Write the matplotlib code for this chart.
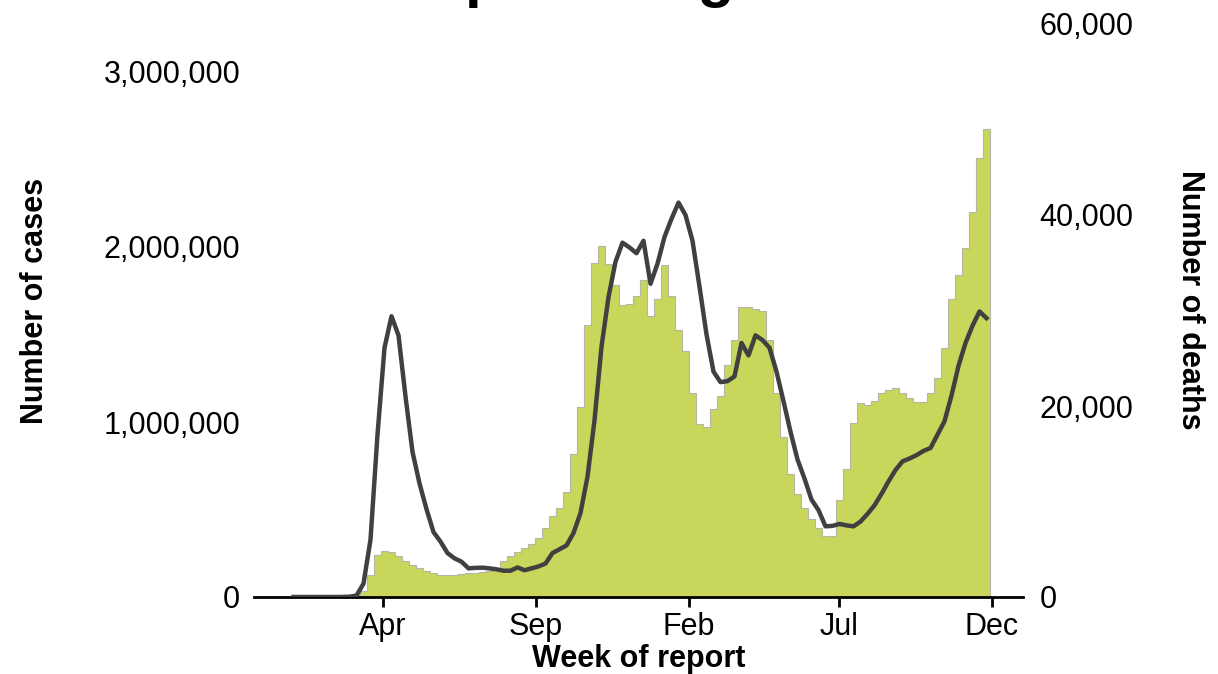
import matplotlib
matplotlib.use('Agg')
import matplotlib.pyplot as plt
import matplotlib.dates as mdates
import matplotlib.ticker as mticker
import numpy as np
import pandas as pd

plt.rcParams['font.family'] = ['Liberation Sans', 'DejaVu Sans']

# weekly report, week starting Monday
weeks = pd.date_range('2019-12-30', periods=100, freq='7D')

# cases per week, thousands
cases = [0, 0, 0, 0, 0, 0, 0.2, 1, 3, 12,
         36, 125, 239, 264, 255, 236, 207, 182, 165, 150,
         138, 128, 125, 128, 132, 135, 138, 142, 148, 160,
         207, 236, 255, 279, 302, 340, 397, 464, 511, 600,
         815, 1087, 1556, 1908, 2003, 1904, 1785, 1670, 1676, 1718,
         1813, 1604, 1703, 1895, 1718, 1524, 1408, 1163, 990, 971,
         1072, 1148, 1325, 1471, 1657, 1655, 1648, 1632, 1467, 1167,
         916, 701, 587, 506, 445, 397, 350, 346, 553, 734,
         996, 1110, 1100, 1120, 1163, 1183, 1195, 1163, 1135, 1117,
         1113, 1167, 1254, 1424, 1703, 1842, 1997, 2199, 2507, 2672]

# deaths per week, thousands
deaths = [0, 0, 0, 0, 0, 0, 0, 0.01, 0.03, 0.15,
          1.4, 6.0, 17.0, 26.1, 29.4, 27.4, 21.0, 15.2, 11.9, 9.2,
          6.8, 5.8, 4.6, 4.05, 3.7, 3.0, 3.05, 3.07, 3.0, 2.9,
          2.75, 2.75, 3.1, 2.8, 3.0, 3.2, 3.5, 4.6, 5.0, 5.4,
          6.7, 8.8, 12.6, 18.5, 26.2, 31.4, 35.1, 37.1, 36.6, 36.0,
          37.3, 32.8, 34.9, 37.7, 39.6, 41.3, 40.0, 37.3, 32.5, 27.5,
          23.6, 22.5, 22.6, 23.1, 26.6, 25.3, 27.4, 26.9, 26.1, 23.6,
          20.5, 17.3, 14.4, 12.4, 10.2, 9.1, 7.4, 7.45, 7.65, 7.5,
          7.4, 7.9, 8.7, 9.6, 10.8, 12.1, 13.3, 14.2, 14.5, 14.85,
          15.3, 15.6, 17.0, 18.4, 21.1, 24.2, 26.6, 28.4, 29.9, 29.2]

tick_dates = ['2020-04-01', '2020-09-01', '2021-02-01', '2021-07-01', '2021-12-01']
tick_labels = ['Apr', 'Sep', 'Feb', 'Jul', 'Dec']

W, H = 1218, 674
fig = plt.figure(figsize=(W / 100, H / 100), dpi=100)
ax = fig.add_axes([254 / W, 77 / H, (1023 - 254) / W, 573 / H])

case_vals = np.array(cases) * 1000
ax.bar(weeks, case_vals, width=7, align='edge', color='#c8d65b', linewidth=0)
edges = mdates.date2num(list(weeks) + [weeks[-1] + pd.Timedelta(days=7)])
ax.stairs(case_vals, edges, color='#b4b6a6', lw=0.8)

ax.set_xlim(pd.Timestamp('2019-11-24'), pd.Timestamp('2022-01-01'))
ax.set_ylim(0, 3e6 * 573 / 525)
ax.set_yticks([0, 1e6, 2e6, 3e6])
ax.yaxis.set_major_formatter(mticker.StrMethodFormatter('{x:,.0f}'))
ax.set_xticks([pd.Timestamp(d) for d in tick_dates])
ax.set_xticklabels(tick_labels)
ax.tick_params(axis='y', length=0, pad=10, labelsize=22)
ax.tick_params(axis='x', length=7, width=2, pad=4, labelsize=22)
for s in ['left', 'top', 'right']:
    ax.spines[s].set_visible(False)
ax.spines['bottom'].set_linewidth(2)

ax2 = ax.twinx()
ax2.plot(weeks + pd.Timedelta(days=3.5), np.array(deaths) * 1000,
         color='#404040', lw=3.2, solid_joinstyle='round')
ax2.set_ylim(0, 60000)
ax2.set_yticks([0, 20000, 40000, 60000])
ax2.yaxis.set_major_formatter(mticker.StrMethodFormatter('{x:,.0f}'))
ax2.tick_params(axis='y', length=0, pad=12, labelsize=22)
for s in ax2.spines.values():
    s.set_visible(False)

fig.text(35 / W, 1 - 301 / H, 'Number of cases', rotation=90, fontsize=22,
         fontweight='bold', ha='center', va='center')
fig.text(1190 / W, 1 - 300 / H, 'Number of deaths', rotation=270, fontsize=22,
         fontweight='bold', ha='center', va='center')
fig.text(639 / W, 1 - 659 / H, 'Week of report', fontsize=22,
         fontweight='bold', ha='center', va='center')
# title sits mostly above the canvas, as in the source image
fig.text(576 / W, 1 + 4 / H, 'European Region', fontsize=43,
         fontweight='bold', ha='center', va='baseline')

fig.savefig('out.png', dpi=100)
